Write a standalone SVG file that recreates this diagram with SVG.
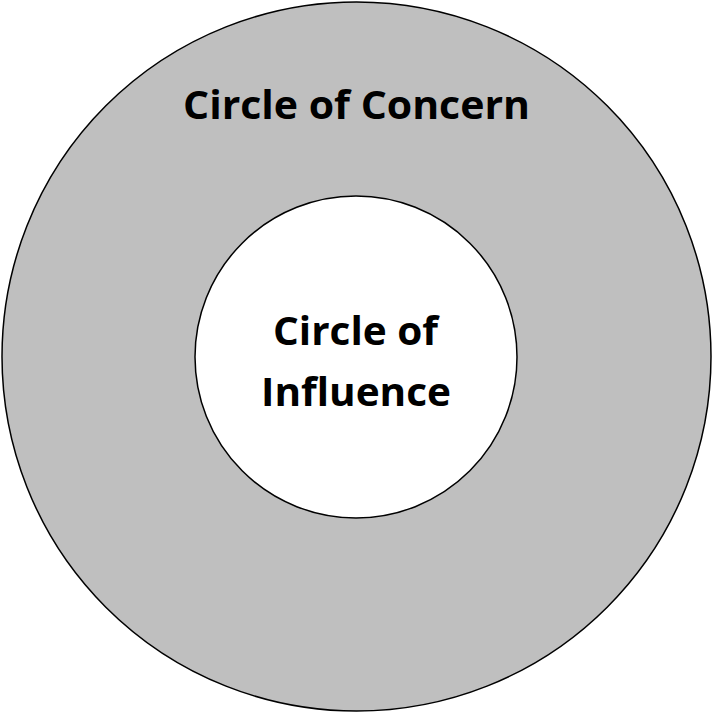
<svg xmlns="http://www.w3.org/2000/svg" width="713" height="713" viewBox="0 0 713 713">
<style>
.c{stroke:#000;stroke-width:1.5}
.t{font-family:"Open Sans","Liberation Sans",sans-serif;font-weight:bold;font-size:40px;fill:#000;text-anchor:middle}
</style>
<rect width="713" height="713" fill="#fff"/>
<g id="concern">
<circle class="c" cx="356.5" cy="356.5" r="354.5" fill="#bfbfbf"/>
<text class="t" x="356.5" y="119" textLength="347" lengthAdjust="spacingAndGlyphs">Circle of Concern</text>
</g>
<g id="influence">
<circle class="c" cx="356" cy="357" r="161" fill="#fff"/>
<text class="t" x="355.5" y="345" textLength="165" lengthAdjust="spacingAndGlyphs">Circle of</text>
<text class="t" x="356" y="406" textLength="190" lengthAdjust="spacingAndGlyphs">Influence</text>
</g>
</svg>
